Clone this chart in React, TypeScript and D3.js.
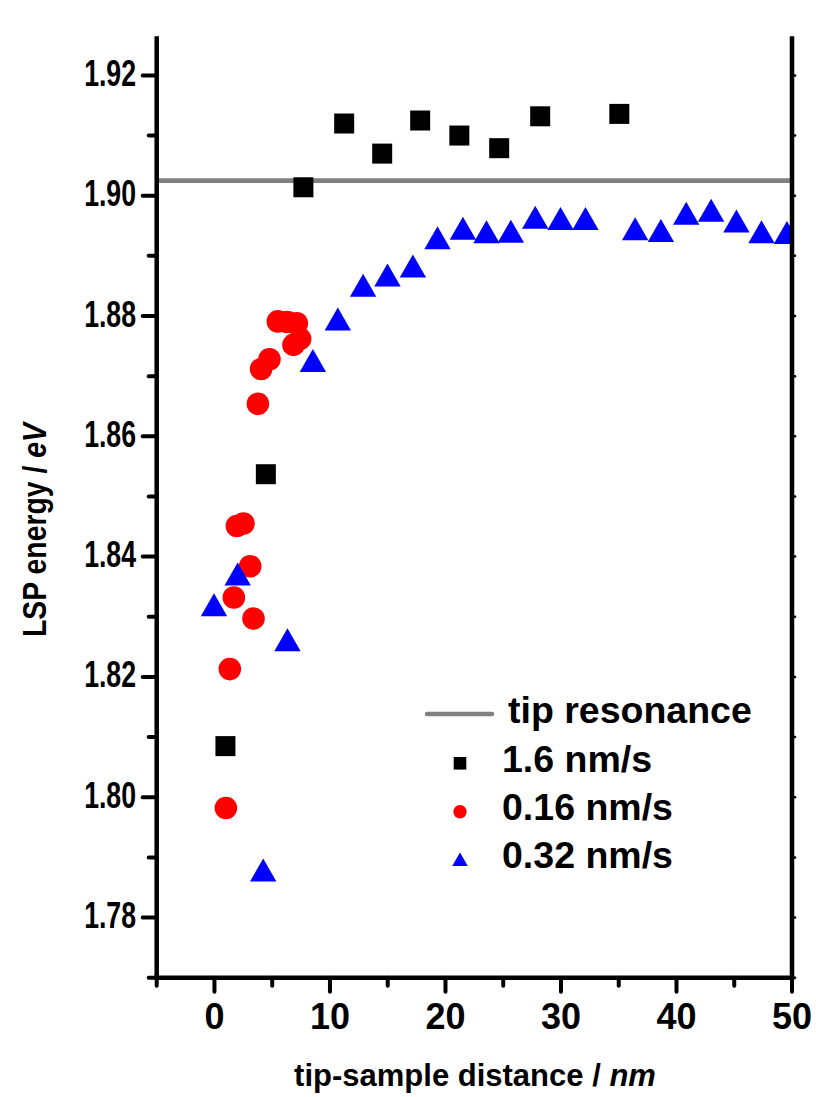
import React from "react";
import * as d3 from "d3";

const tipResonance = 1.9025;

const sqX = [0.95, 4.45, 7.7, 11.23, 14.52, 17.81, 21.2, 24.65, 28.2, 35.05];
const sqY = [1.8085, 1.8537, 1.9014, 1.912, 1.907, 1.9125, 1.91, 1.9079, 1.9132, 1.9136];

const ciX = [0.99, 1.33, 1.68, 1.94, 2.51, 3.09, 3.38, 3.76, 4.04, 4.76, 5.49, 6.3, 7.13, 7.42, 6.84];
const ciY = [1.7982, 1.8213, 1.8332, 1.8451, 1.8455, 1.8384, 1.8297, 1.8654, 1.8712, 1.8728, 1.8791, 1.879, 1.8788, 1.8762, 1.8752];

const trX = [-0.04, 2.01, 4.22, 6.32, 8.52, 10.68, 12.87, 14.98, 17.18, 19.31, 21.51, 23.55, 25.66, 27.77, 29.96, 32.12, 36.42, 38.65, 40.84, 43.0, 45.19, 47.36, 49.56];
const trY = [1.832, 1.8371, 1.7879, 1.8262, 1.8726, 1.8795, 1.8851, 1.8868, 1.8883, 1.893, 1.8946, 1.894, 1.8941, 1.8964, 1.8962, 1.8962, 1.8945, 1.8942, 1.8971, 1.8976, 1.8958, 1.894, 1.8939];

const xMajor = [0, 10, 20, 30, 40, 50];
const xMinor = [-5, 5, 15, 25, 35, 45];
const yMajor = [1.78, 1.8, 1.82, 1.84, 1.86, 1.88, 1.9, 1.92];
const yMinor = [1.77, 1.79, 1.81, 1.83, 1.85, 1.87, 1.89, 1.91];

const legendLabels = ["tip resonance", "1.6 nm/s", "0.16 nm/s", "0.32 nm/s"];

const FONT = "'Liberation Sans', Arial, Helvetica, sans-serif";

export default function App() {
  const L = 156.7, R = 792, B = 977.7, T = 38.5;
  const x = d3.scaleLinear().domain([-5, 50]).range([L, R]);
  const y = d3.scaleLinear().domain([1.77, 1.926]).range([B, T + 0.8]);
  const fmtY = d3.format(".2f");

  const tri = (cx: number, cy: number, hw: number, hh: number) =>
    `M${cx},${cy - hh}L${cx + hw},${cy + hh}L${cx - hw},${cy + hh}Z`;

  return (
    <svg width={816} height={1097} style={{ position: "absolute", left: 0, top: 0, background: "#fff" }}>
      <defs>
        <clipPath id="plot">
          <rect x={L} y={T} width={R - L} height={B - T} />
        </clipPath>
      </defs>
      <rect x={0} y={0} width={816} height={1097} fill="#fff" />
      <g clipPath="url(#plot)">
        <line x1={L} x2={R} y1={y(tipResonance)} y2={y(tipResonance)} stroke="#808080" strokeWidth={4.7} />
        {sqX.map((v, i) => (
          <rect key={"s" + i} x={x(v) - 10} y={y(sqY[i]) - 10} width={20} height={20} fill="#000" />
        ))}
        {ciX.map((v, i) => (
          <circle key={"c" + i} cx={x(v)} cy={y(ciY[i])} r={11.3} fill="#ff0000" />
        ))}
        {trX.map((v, i) => (
          <path key={"t" + i} d={tri(x(v), y(trY[i]), 13.2, 11.5)} fill="#0000ff" />
        ))}
      </g>
      {/* axes */}
      <g stroke="#000" strokeWidth={4.5} strokeLinecap="square">
        <line x1={L} x2={L} y1={T} y2={B} />
        <line x1={R} x2={R} y1={T} y2={B} />
        <line x1={L} x2={R} y1={B} y2={B} />
      </g>
      <g stroke="#000" strokeWidth={4} strokeLinecap="round">
        {yMajor.map((v) => (
          <line key={"ym" + v} x1={L - 14} x2={L} y1={y(v)} y2={y(v)} />
        ))}
        {yMinor.map((v) => (
          <line key={"yn" + v} x1={L - 8} x2={L} y1={y(v)} y2={y(v)} />
        ))}
        {yMajor.concat(yMinor).map((v) => (
          <line key={"yr" + v} x1={R} x2={R + 3} y1={y(v)} y2={y(v)} strokeWidth={2.5} />
        ))}
        {xMajor.map((v) => (
          <line key={"xm" + v} x1={x(v)} x2={x(v)} y1={B} y2={B + 14} />
        ))}
        {xMinor.map((v) => (
          <line key={"xn" + v} x1={x(v)} x2={x(v)} y1={B} y2={B + 8} />
        ))}
      </g>
      <g fontFamily={FONT} fontWeight="bold" fill="#000">
        {yMajor.map((v) => (
          <text
            key={"yl" + v}
            transform={`translate(136,${y(v) + 10.5}) scale(0.74,1.04)`}
            textAnchor="end"
            fontSize={36}
          >
            {fmtY(v)}
          </text>
        ))}
        {xMajor.map((v) => (
          <text key={"xl" + v} x={x(v)} y={1029} textAnchor="middle" fontSize={36}>
            {v}
          </text>
        ))}
        <text x={475} y={1086} textAnchor="middle" fontSize={31}>
          tip-sample distance / <tspan fontStyle="italic">nm</tspan>
        </text>
        <text transform="translate(46,530) rotate(-90) scale(0.86,1)" textAnchor="middle" fontSize={33}>
          LSP energy / <tspan fontStyle="italic">eV</tspan>
        </text>
      </g>
      {/* legend */}
      <g fontFamily={FONT} fontWeight="bold" fill="#000" fontSize={37.5}>
        <line x1={427} x2={492} y1={714} y2={714} stroke="#808080" strokeWidth={4.5} strokeLinecap="round" />
        <text x={508} y={723}>{legendLabels[0]}</text>
        <rect x={460 - 6.3} y={763.3 - 6.3} width={12.6} height={12.6} fill="#000" />
        <text x={502} y={772}>{legendLabels[1]}</text>
        <circle cx={460} cy={811.7} r={6.7} fill="#ff0000" />
        <text x={502} y={819.5}>{legendLabels[2]}</text>
        <path d={tri(460, 859.3, 7.8, 6.8)} fill="#0000ff" />
        <text x={502} y={868}>{legendLabels[3]}</text>
      </g>
    </svg>
  );
}
